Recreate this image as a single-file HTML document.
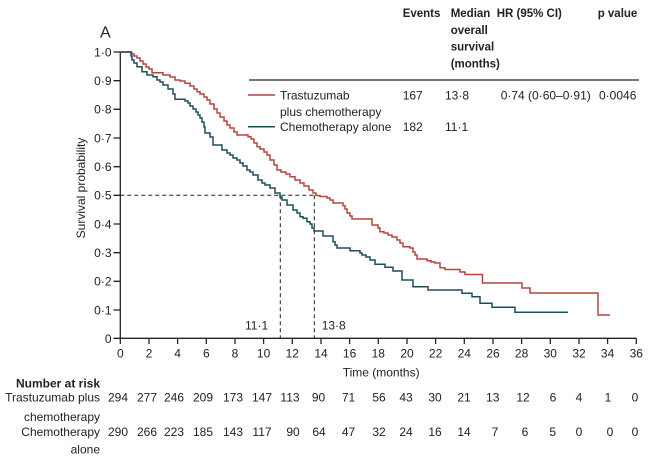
<!DOCTYPE html>
<html><head><meta charset="utf-8">
<style>
html,body{margin:0;padding:0;background:#fff;}
svg{display:block;font-family:"Liberation Sans",sans-serif;}
</style></head>
<body>
<svg width="659" height="461" viewBox="0 0 659 461" xmlns="http://www.w3.org/2000/svg">
<rect width="659" height="461" fill="#fff"/>
<g fill="#222" font-size="12">
<text x="100" y="37.5" font-size="16">A</text>
<g font-weight="bold" font-size="11.5">
<text x="402.7" y="17">Events</text>
<text x="450.7" y="17">Median</text>
<text x="450.7" y="34">overall</text>
<text x="450.7" y="50.7">survival</text>
<text x="450.7" y="67.3">(months)</text>
<text x="496.7" y="17">HR (95% CI)</text>
<text x="597.7" y="17">p value</text>
</g>
<text x="280" y="99.3">Trastuzumab</text>
<text x="280" y="116">plus chemotherapy</text>
<text x="280" y="131">Chemotherapy alone</text>
<text x="402.7" y="99.3">167</text>
<text x="445" y="99.3">13·8</text>
<text x="500.7" y="99.3">0·74 (0·60–0·91)</text>
<text x="599" y="99.3">0·0046</text>
<text x="402.7" y="131">182</text>
<text x="445" y="131">11·1</text>
<g text-anchor="end">
<text x="111.5" y="56.3">1·0</text>
<text x="111.5" y="85">0·9</text>
<text x="111.5" y="113.6">0·8</text>
<text x="111.5" y="142.3">0·7</text>
<text x="111.5" y="171">0·6</text>
<text x="111.5" y="199.6">0·5</text>
<text x="111.5" y="228.3">0·4</text>
<text x="111.5" y="257">0·3</text>
<text x="111.5" y="285.6">0·2</text>
<text x="111.5" y="314.3">0·1</text>
<text x="111.5" y="343">0</text>
</g>
<g text-anchor="middle">
<text x="120.3" y="357.5">0</text>
<text x="149" y="357.5">2</text>
<text x="177.6" y="357.5">4</text>
<text x="206.3" y="357.5">6</text>
<text x="235" y="357.5">8</text>
<text x="263.6" y="357.5">10</text>
<text x="292.3" y="357.5">12</text>
<text x="321" y="357.5">14</text>
<text x="349.6" y="357.5">16</text>
<text x="378.3" y="357.5">18</text>
<text x="407" y="357.5">20</text>
<text x="435.6" y="357.5">22</text>
<text x="464.3" y="357.5">24</text>
<text x="493" y="357.5">26</text>
<text x="521.6" y="357.5">28</text>
<text x="550.3" y="357.5">30</text>
<text x="579" y="357.5">32</text>
<text x="607.6" y="357.5">34</text>
<text x="636.3" y="357.5">36</text>
</g>
<text x="342.7" y="376.3">Time (months)</text>
<text x="85" y="188" text-anchor="middle" transform="rotate(-90 85 188)">Survival probability</text>
<text x="245" y="329.3">11·1</text>
<text x="321.7" y="329.3">13·8</text>
<g text-anchor="end">
<text x="100" y="387.3" font-weight="bold">Number at risk</text>
<text x="100" y="401.3">Trastuzumab plus</text>
<text x="100" y="421">chemotherapy</text>
<text x="100" y="436">Chemotherapy</text>
<text x="100" y="453.3">alone</text>
</g>
<g text-anchor="middle">
<text x="118" y="401.3">294</text><text x="147" y="401.3">277</text><text x="174" y="401.3">246</text><text x="203" y="401.3">209</text><text x="233" y="401.3">173</text><text x="262" y="401.3">147</text><text x="290" y="401.3">113</text><text x="318.5" y="401.3">90</text><text x="348.5" y="401.3">71</text><text x="379" y="401.3">56</text><text x="406" y="401.3">43</text><text x="435" y="401.3">30</text><text x="464" y="401.3">21</text><text x="492.7" y="401.3">13</text><text x="523" y="401.3">12</text><text x="553" y="401.3">6</text><text x="579" y="401.3">4</text><text x="608" y="401.3">1</text><text x="635" y="401.3">0</text>
<text x="118" y="436">290</text><text x="147" y="436">266</text><text x="174" y="436">223</text><text x="203" y="436">185</text><text x="233" y="436">143</text><text x="262" y="436">117</text><text x="293" y="436">90</text><text x="319" y="436">64</text><text x="348.5" y="436">47</text><text x="379" y="436">32</text><text x="406" y="436">24</text><text x="435" y="436">16</text><text x="464" y="436">14</text><text x="495" y="436">7</text><text x="525" y="436">6</text><text x="552.7" y="436">5</text><text x="579" y="436">0</text><text x="610" y="436">0</text><text x="635" y="436">0</text>
</g>
</g>
<line x1="249" y1="80" x2="639" y2="80" stroke="#222" stroke-width="1.2"/>
<line x1="248" y1="95" x2="275" y2="95" stroke="#b5463f" stroke-width="1.5"/>
<line x1="248" y1="126.7" x2="275" y2="126.7" stroke="#1f4d5a" stroke-width="1.5"/>
<g stroke="#222" stroke-width="1.3" fill="none">
<path d="M120.3 51.7 V338.3 H636.3"/>
<path d="M113.5 52H120.3M113.5 80.7H120.3M113.5 109.3H120.3M113.5 138H120.3M113.5 166.7H120.3M113.5 195.3H120.3M113.5 224H120.3M113.5 252.7H120.3M113.5 281.3H120.3M113.5 310H120.3M113.5 338.3H120.3"/>
<path d="M120.3 338.3V344M149 338.3V344M177.6 338.3V344M206.3 338.3V344M235 338.3V344M263.6 338.3V344M292.3 338.3V344M321 338.3V344M349.6 338.3V344M378.3 338.3V344M407 338.3V344M435.6 338.3V344M464.3 338.3V344M493 338.3V344M521.6 338.3V344M550.3 338.3V344M579 338.3V344M607.6 338.3V344M636.3 338.3V344"/>
</g>
<g stroke="#222" stroke-width="1" stroke-dasharray="4 3" fill="none">
<path d="M120.3 195.3H314.3"/>
<path d="M280.3 195.3V338.3"/>
<path d="M314.3 195.3V338.3"/>
</g>
<path fill="none" stroke="#b5463f" stroke-width="1.5" d="M120.3 52 H131.7 V54 H134 V56 H137 V58 H140 V61 H143 V64 H146 V67 H149 V69 H152 V72.7 H163 V75 H170 V77 H175 V80 H180 V81 H185 V83.3 H190 V86 H194 V89 H197 V91.7 H200 V94 H204 V97 H207 V100 H210 V104 H214 V109 H217 V113 H220 V117 H224 V121 H227 V125 H230 V128 H234 V132 H237 V135 H248 V136.7 H251 V139 H254 V143 H257 V146.7 H260 V149 H264 V152 H267 V155 H270 V160 H274 V165 H277 V170 H281 V172 H286 V174 H290 V176.7 H295 V180 H300 V183 H304 V186 H309 V190 H313 V193 H316 V195.5 H320 V196.5 H327 V198 H330 V200 H333 V203 H343 V205.7 H345 V209 H347 V213 H350 V216 H352 V219 H372 V225 H378 V228 H380 V231.7 H384 V233 H388 V235 H392 V237 H397 V240 H400 V243 H403 V246.7 H410 V248 H413 V252 H415 V255 H417 V259 H427 V260.7 H431 V262 H435 V263 H440 V267.7 H445 V269.5 H460 V272 H465 V274.5 H482.5 V283 H522 V288 H530 V293 H598 V315 H610"/>
<path fill="none" stroke="#1f4d5a" stroke-width="1.5" d="M120.3 52 H131 V56 H132 V60 H134 V63 H137 V66.7 H142 V71.7 H147 V75 H153 V76.7 H157 V80 H160 V82 H163 V85 H168 V89 H173 V94 H175 V99.3 H185 V101 H188 V103 H190 V106 H193 V109 H196 V112 H198 V115 H200 V118 H202 V122 H204 V127 H205 V133 H210 V137 H213 V145 H222 V150 H227 V153 H230 V155 H233 V158 H237 V160 H240 V163 H243 V166 H247 V170 H250 V172 H253 V175 H258 V180 H262 V183 H265 V185 H270 V188 H275 V193 H280 V197 H282 V200 H287 V205 H293 V210 H297 V213 H300 V216.7 H303 V218.3 H307 V221.7 H310 V224 H312 V228 H314 V231 H323 V236 H333 V241.7 H335 V245 H337 V248 H350 V250.7 H360 V253 H362 V255 H366 V257 H370 V260 H375 V264.3 H385 V267.3 H393 V271 H402 V280 H413 V286.7 H428 V290 H462 V293.3 H472 V296.7 H480 V303.3 H492 V307.3 H515 V312.3 H568"/>
</svg>
</body></html>
